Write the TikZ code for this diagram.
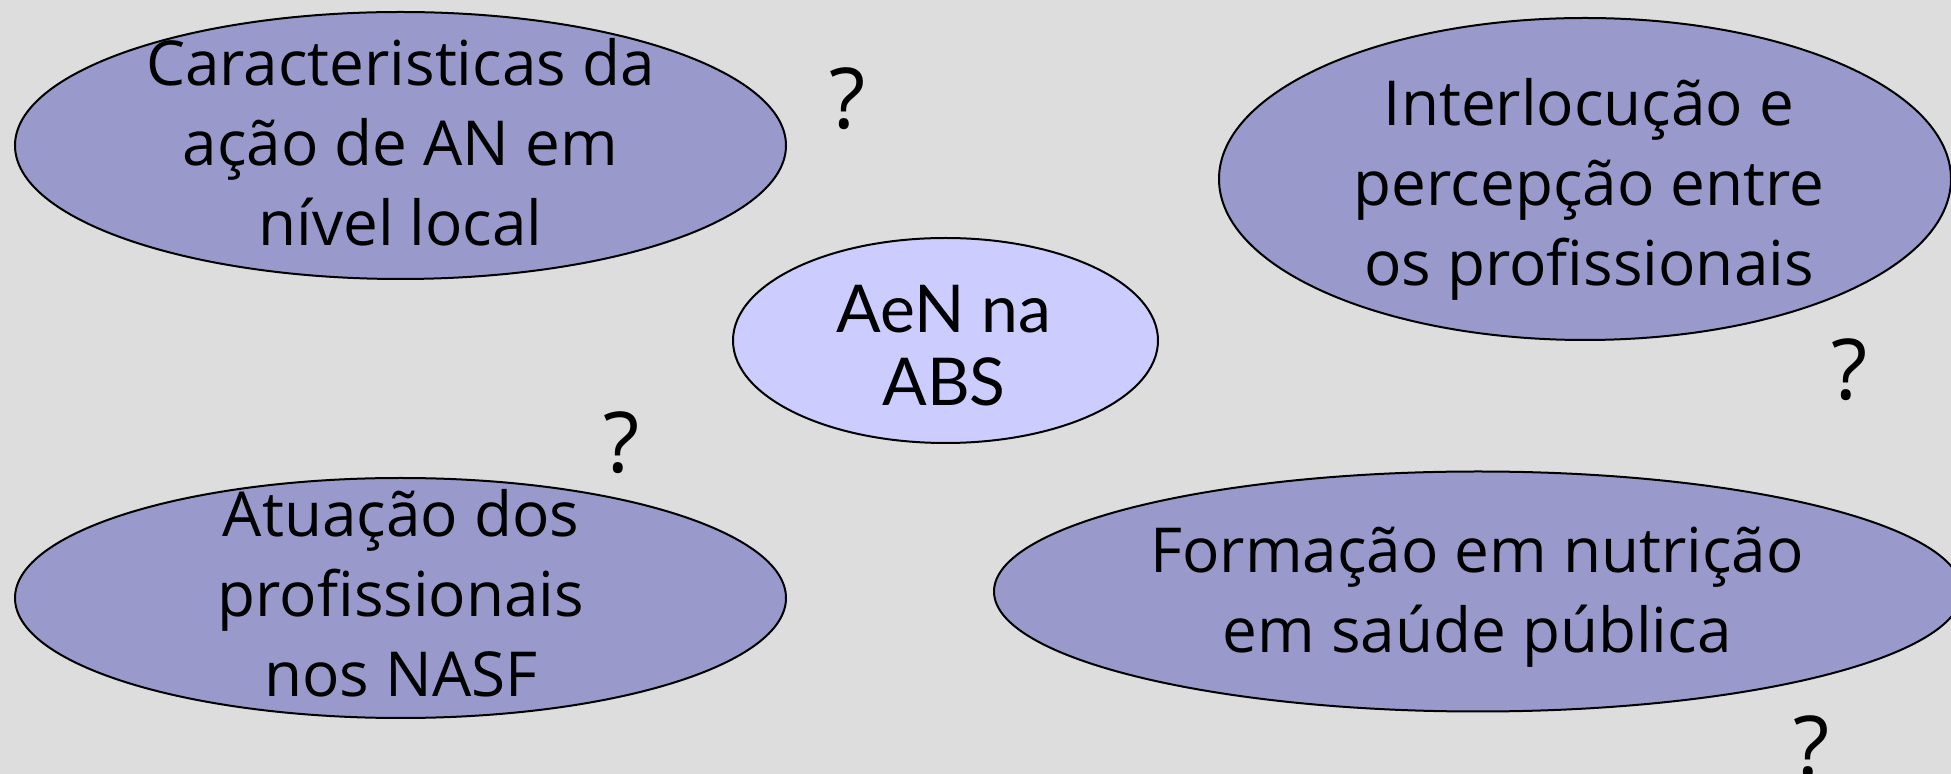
\documentclass[tikz,border=0pt]{standalone}
\usepackage{fontspec}
\usetikzlibrary{shapes.geometric}
\newfontfamily\mainf{Open Sans}
\newfontfamily\centf{Lato}
\definecolor{bgc}{HTML}{DDDDDD}
\definecolor{lavc}{HTML}{9999CC}
\definecolor{lightc}{HTML}{CCCCFF}
\newcommand{\lstr}{\strut}
\tikzset{
  blob/.style={ellipse, draw=black, line width=1pt, fill=lavc, inner sep=0pt},
  centerblob/.style={blob, fill=lightc},
  bubbletext/.style={align=center, inner sep=0pt, text=black, font=\fontsize{31}{40}\selectfont\mainf},
  centertext/.style={align=center, inner sep=0pt, text=black, font=\fontsize{33}{36.5}\selectfont\centf},
  qmark/.style={inner sep=0pt, text=black, font=\fontsize{42}{50}\selectfont\mainf}
}
\begin{document}
\begin{tikzpicture}[x=0.5pt, y=-0.5pt]
\useasboundingbox (0,0) rectangle (1951,774);
\clip (0,0) rectangle (1951,774);
\fill[bgc] (0,0) rectangle (1951,774);

\node[blob, minimum width=385.5pt, minimum height=133.5pt] (e1) at (400.5,145.5) {};
\node[blob, minimum width=366pt, minimum height=161pt] (e2) at (1585,179) {};
\node[centerblob, minimum width=212.5pt, minimum height=102.5pt] (e3) at (945.5,340.5) {};
\node[blob, minimum width=385.5pt, minimum height=120pt] (e4) at (400.5,598) {};
\node[blob, minimum width=484pt, minimum height=120pt] (e5) at (1478,591.5) {};

\node[bubbletext] (t1) at (400.5,150) {\lstr Caracteristicas da\\\lstr ação de AN em\\\lstr nível local\lstr};
\node[bubbletext] (t2) at (1589,190) {\lstr Interlocução e\\\lstr percepção entre\\\lstr os profissionais\lstr};
\node[centertext] (t3) at (944,354) {\lstr AeN na\\\lstr ABS\lstr};
\node[bubbletext] (t4) at (401,601) {\lstr Atuação dos\\\lstr profissionais\\\lstr nos NASF\lstr};
\node[bubbletext] (t5) at (1477,596.5) {\lstr Formação em nutrição\\\lstr em saúde pública\lstr};

\node[qmark] (q1) at (848,98.5) {?};
\node[qmark] (q2) at (622,443) {?};
\node[qmark] (q3) at (1850,370) {?};
\node[qmark] (q4) at (1812,746.5) {?};
\end{tikzpicture}
\end{document}
